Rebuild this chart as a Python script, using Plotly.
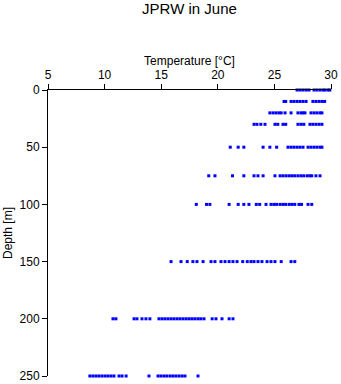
import plotly.graph_objects as go

# Standard sampling depths [m]
depths = [0, 10, 20, 30, 50, 75, 100, 150, 200, 250]

# Temperatures [°C] observed at each depth
t_0 = [27.0, 27.26, 27.53, 27.8, 28.06, 28.5, 28.76, 29.03, 29.3, 29.47, 29.73, 29.9]
t_10 = [25.85, 26.0, 26.47, 26.73, 27.0, 27.26, 27.53, 27.8, 28.4, 28.67, 28.94, 29.2, 29.44]
t_20 = [24.6, 24.88, 25.14, 25.4, 25.6, 25.94, 26.47, 27.08, 27.35, 27.53, 27.7,
        28.23, 28.5, 28.76, 29.03, 29.2]
t_30 = [23.2, 23.46, 23.8, 24.17, 25.05, 25.3, 25.76, 26.0, 27.08, 27.35, 27.6,
        28.14, 28.4, 28.67, 28.94, 29.2]
t_50 = [21.1, 21.8, 22.3, 24.0, 24.6, 25.2, 26.2, 26.47, 26.73, 27.0, 27.26, 27.53,
        27.97, 28.23, 28.5, 28.76, 29.03, 29.2]
t_75 = [19.2, 19.75, 21.3, 22.3, 23.2, 23.55, 24.0, 25.05, 25.5, 25.76, 26.03, 26.3,
        26.55, 26.8, 27.08, 27.35, 27.6, 27.9, 28.14, 28.3, 28.67, 29.03]
t_100 = [18.1, 19.0, 19.3, 21.0, 21.8, 22.3, 22.75, 23.4, 23.7, 24.26, 24.7, 24.96,
         25.2, 25.5, 25.76, 26.0, 26.3, 26.55, 26.8, 27.17, 27.4, 27.97, 28.3]
t_150 = [15.87, 16.75, 17.3, 17.8, 18.16, 18.7, 19.4, 19.75, 20.28, 20.64, 21.0,
         21.34, 21.7, 22.2, 22.6, 22.93, 23.2, 23.55, 23.9, 24.35, 24.7, 25.05, 25.6,
         26.47, 26.8]
t_200 = [10.74, 11.0, 12.6, 12.86, 13.3, 13.65, 14.0, 14.8, 15.07, 15.33, 15.6, 15.87,
         16.13, 16.4, 16.66, 16.93, 17.2, 17.46, 17.72, 17.98, 18.25, 18.5, 18.78,
         19.5, 19.84, 20.37, 21.0, 21.34]
t_250 = [8.7, 8.97, 9.24, 9.5, 9.77, 10.04, 10.3, 10.57, 10.83, 11.27, 11.54, 11.9,
         13.92, 14.72, 14.98, 15.25, 15.5, 15.78, 16.04, 16.3, 16.57, 16.84, 17.1, 18.25]

profiles = [t_0, t_10, t_20, t_30, t_50, t_75, t_100, t_150, t_200, t_250]

x_ticks = [5, 10, 15, 20, 25, 30]
y_ticks = [0, 50, 100, 150, 200, 250]

temps, deps = [], []
for d, ts in zip(depths, profiles):
    temps.extend(ts)
    deps.extend([d] * len(ts))

font_family = "Liberation Sans, Arial, sans-serif"

fig = go.Figure(
    go.Scatter(
        x=temps,
        y=deps,
        mode="markers",
        marker=dict(symbol="square", size=3, color="#0000ff", line=dict(width=0)),
        cliponaxis=False,
        showlegend=False,
    )
)

fig.update_layout(
    width=341,
    height=384,
    margin=dict(l=48, r=10, t=90, b=8, autoexpand=False),
    paper_bgcolor="white",
    plot_bgcolor="white",
    font=dict(family=font_family, size=12, color="black"),
    title=dict(
        text="JPRW in June",
        font=dict(family=font_family, size=15, color="black"),
        x=0.5,
        xref="paper",
        xanchor="center",
        y=1 - 9 / 384,
        yref="container",
        yanchor="middle",
    ),
)

fig.update_xaxes(
    side="top",
    range=[5, 30],
    tickvals=x_ticks,
    ticks="outside",
    ticklen=5,
    tickcolor="black",
    showline=True,
    linecolor="black",
    linewidth=1,
    showgrid=False,
    zeroline=False,
    automargin=False,
    title=dict(text="Temperature [°C]", font=dict(size=12), standoff=0),
)

fig.update_yaxes(
    range=[250, 0],
    tickvals=y_ticks,
    ticks="outside",
    ticklen=5,
    tickcolor="black",
    showline=True,
    linecolor="black",
    linewidth=1,
    showgrid=False,
    zeroline=False,
    automargin=False,
    title=dict(text="Depth [m]", font=dict(size=12), standoff=4),
)

fig.write_html("out.html")
